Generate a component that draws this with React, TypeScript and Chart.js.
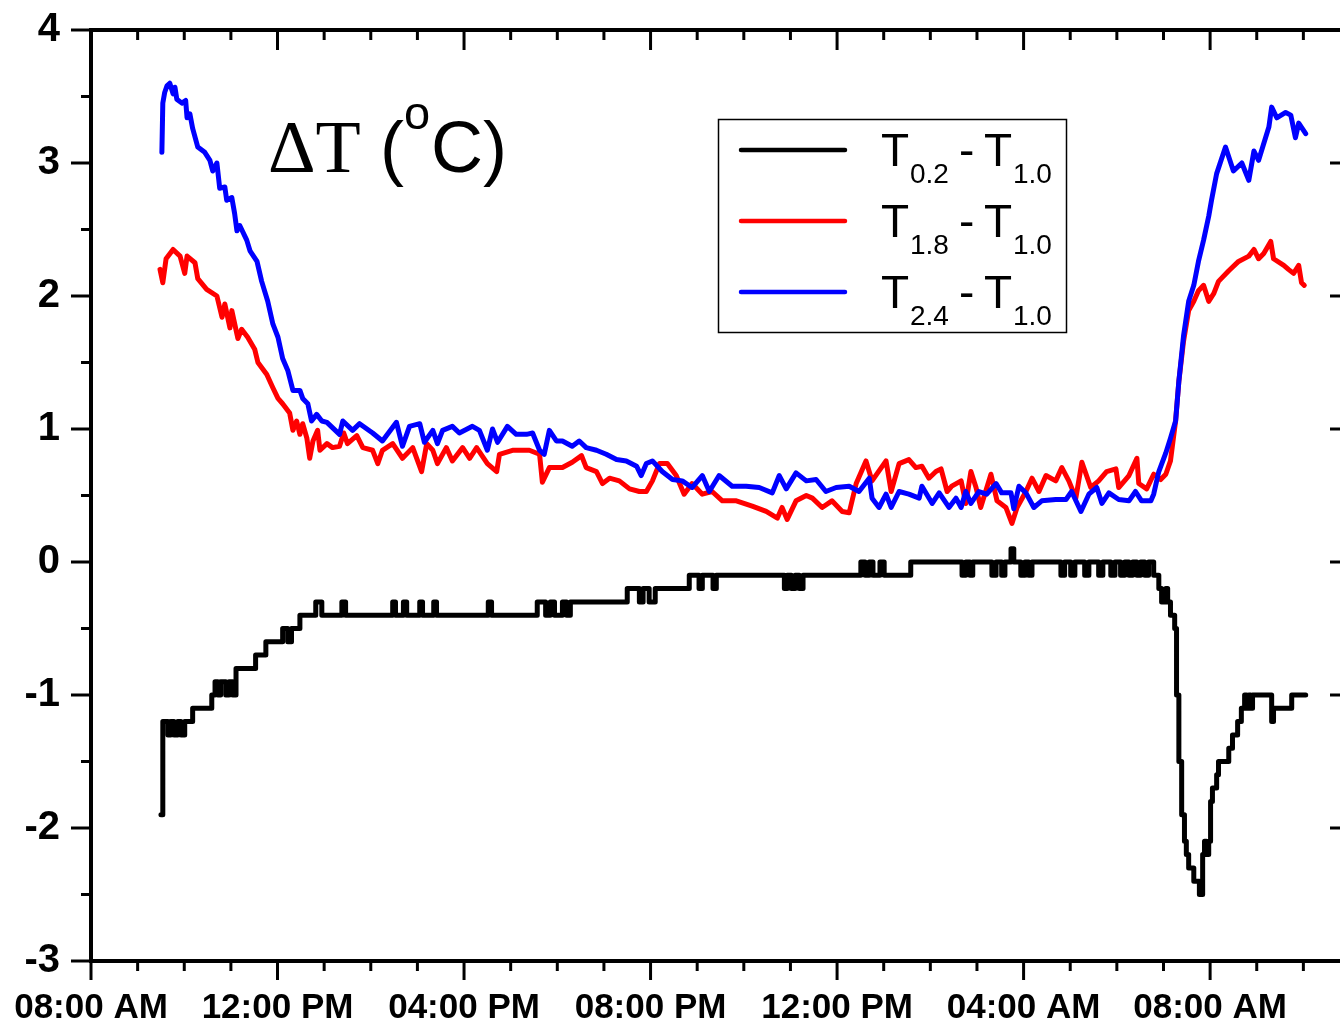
import React, { useEffect, useRef } from "react";
import { Chart, registerables } from "chart.js";

Chart.register(...registerables);

// x: hours after 08:00 AM of day 1; y: temperature difference (°C)
const xTickLabels = ["08:00 AM", "12:00 PM", "04:00 PM", "08:00 PM", "12:00 PM", "04:00 AM", "08:00 AM"];
const yTickValues = [-3, -2, -1, 0, 1, 2, 3, 4];
const seriesLabels = [
  ["0.2", "1.0"],
  ["1.8", "1.0"],
  ["2.4", "1.0"],
];

// T0.2 - T1.0 (change points, stepped)
const black02: [number, number][] = [
  [1.5, -1.9], [1.54, -1.2], [1.65, -1.3], [1.71, -1.2], [1.78, -1.3], [1.86, -1.2], [1.93, -1.3], [2.01, -1.2],
  [2.18, -1.1], [2.59, -1.0], [2.66, -0.9], [2.72, -1.0], [2.78, -0.9], [2.89, -1.0], [2.96, -0.9], [3.04, -1.0],
  [3.11, -0.8], [3.53, -0.7], [3.75, -0.6], [4.11, -0.5], [4.22, -0.6], [4.3, -0.5], [4.48, -0.4], [4.82, -0.3],
  [4.95, -0.4], [5.38, -0.3], [5.46, -0.4], [6.47, -0.3], [6.53, -0.4], [6.7, -0.3], [6.77, -0.4], [7.05, -0.3],
  [7.11, -0.4], [7.35, -0.3], [7.41, -0.4], [8.52, -0.3], [8.59, -0.4], [9.57, -0.3], [9.75, -0.4], [9.85, -0.3],
  [9.94, -0.4], [10.11, -0.3], [10.2, -0.4], [10.28, -0.3], [11.5, -0.2], [11.76, -0.3], [11.84, -0.2], [11.97, -0.3],
  [12.1, -0.2], [12.83, -0.1], [13.04, -0.2], [13.11, -0.1], [13.34, -0.2], [13.41, -0.1], [14.87, -0.2], [14.93, -0.1],
  [15.02, -0.2], [15.1, -0.1], [15.19, -0.2], [15.27, -0.1], [16.51, 0], [16.6, -0.1], [16.69, 0], [16.77, -0.1],
  [16.92, 0], [17.01, -0.1], [17.58, 0], [18.68, -0.1], [18.76, 0], [18.85, -0.1], [18.91, 0], [19.32, -0.1],
  [19.41, 0], [19.53, -0.1], [19.6, 0], [19.73, 0.1], [19.79, 0], [19.94, -0.1], [20.03, 0], [20.11, -0.1],
  [20.18, 0], [20.8, -0.1], [20.88, 0], [21.01, -0.1], [21.1, 0], [21.31, -0.1], [21.4, 0], [21.61, -0.1],
  [21.7, 0], [21.87, -0.1], [21.96, 0], [22.08, -0.1], [22.17, 0], [22.26, -0.1], [22.34, 0], [22.43, -0.1],
  [22.51, 0], [22.6, -0.1], [22.68, 0], [22.79, -0.1], [22.9, -0.2], [22.96, -0.3], [23.05, -0.2], [23.09, -0.3],
  [23.15, -0.4], [23.24, -0.5], [23.28, -1.0], [23.33, -1.5], [23.39, -1.9], [23.45, -2.1], [23.49, -2.2], [23.54, -2.3],
  [23.65, -2.4], [23.77, -2.5], [23.84, -2.2], [23.88, -2.1], [23.92, -2.2], [23.97, -2.1], [24.01, -1.8], [24.05, -1.7],
  [24.14, -1.6], [24.18, -1.5], [24.4, -1.4], [24.48, -1.3], [24.59, -1.2], [24.67, -1.1], [24.74, -1.0], [24.78, -1.1],
  [24.83, -1.0], [24.87, -1.1], [24.91, -1.0], [25.32, -1.2], [25.36, -1.1], [25.75, -1.0], [26.05, -1.0],
];

// T1.8 - T1.0
const red18: [number, number][] = [
  [1.48, 2.2], [1.54, 2.1], [1.61, 2.28], [1.76, 2.35], [1.91, 2.3], [2.01, 2.17], [2.06, 2.3], [2.23, 2.25],
  [2.29, 2.13], [2.48, 2.05], [2.7, 2.0], [2.81, 1.84], [2.87, 1.94], [2.98, 1.76], [3.02, 1.89], [3.15, 1.68],
  [3.23, 1.75], [3.36, 1.69], [3.51, 1.6], [3.58, 1.5], [3.77, 1.41], [3.9, 1.31], [4.01, 1.23], [4.11, 1.19],
  [4.26, 1.12], [4.33, 0.99], [4.41, 1.06], [4.48, 0.96], [4.54, 1.04], [4.63, 0.93], [4.69, 0.78], [4.76, 0.91],
  [4.86, 0.99], [4.91, 0.84], [5.06, 0.89], [5.18, 0.86], [5.33, 0.87], [5.42, 0.97], [5.5, 0.89], [5.7, 0.95],
  [5.83, 0.86], [6.04, 0.84], [6.15, 0.74], [6.25, 0.84], [6.47, 0.89], [6.68, 0.78], [6.9, 0.86], [7.09, 0.68],
  [7.2, 0.89], [7.33, 0.84], [7.43, 0.74], [7.62, 0.86], [7.75, 0.76], [7.97, 0.86], [8.12, 0.78], [8.27, 0.86],
  [8.5, 0.74], [8.7, 0.68], [8.76, 0.81], [9.04, 0.84], [9.4, 0.84], [9.62, 0.81], [9.68, 0.6], [9.83, 0.71],
  [10.11, 0.71], [10.32, 0.75], [10.52, 0.8], [10.62, 0.71], [10.84, 0.68], [10.97, 0.59], [11.12, 0.63], [11.33, 0.61],
  [11.55, 0.55], [11.76, 0.53], [11.91, 0.53], [12.04, 0.61], [12.19, 0.74], [12.36, 0.74], [12.55, 0.65], [12.72, 0.51],
  [12.89, 0.59], [13.11, 0.51], [13.32, 0.53], [13.54, 0.46], [13.84, 0.46], [14.18, 0.42], [14.48, 0.38], [14.72, 0.33],
  [14.82, 0.41], [14.93, 0.32], [15.12, 0.46], [15.34, 0.5], [15.47, 0.48], [15.68, 0.41], [15.89, 0.46], [16.11, 0.38],
  [16.26, 0.37], [16.41, 0.59], [16.62, 0.76], [16.75, 0.61], [17.05, 0.76], [17.16, 0.53], [17.33, 0.74], [17.54, 0.77],
  [17.69, 0.71], [17.82, 0.72], [17.97, 0.63], [18.12, 0.68], [18.23, 0.7], [18.36, 0.53], [18.46, 0.57], [18.66, 0.61],
  [18.76, 0.44], [18.87, 0.68], [18.98, 0.56], [19.08, 0.41], [19.3, 0.66], [19.43, 0.46], [19.62, 0.41], [19.75, 0.29],
  [19.86, 0.41], [20.05, 0.53], [20.18, 0.63], [20.33, 0.53], [20.48, 0.65], [20.69, 0.61], [20.82, 0.71], [20.97, 0.61],
  [21.12, 0.48], [21.25, 0.75], [21.44, 0.56], [21.61, 0.61], [21.78, 0.68], [21.98, 0.7], [22.04, 0.56], [22.26, 0.65],
  [22.43, 0.78], [22.47, 0.59], [22.64, 0.55], [22.79, 0.66], [22.94, 0.62], [23.05, 0.66], [23.15, 0.76], [23.26, 1.06],
  [23.33, 1.36], [23.43, 1.66], [23.54, 1.89], [23.65, 1.96], [23.75, 2.04], [23.86, 2.08], [23.97, 1.96], [24.08, 2.02],
  [24.18, 2.11], [24.4, 2.19], [24.61, 2.26], [24.83, 2.3], [24.94, 2.35], [25.04, 2.28], [25.15, 2.32], [25.3, 2.41],
  [25.36, 2.28], [25.58, 2.23], [25.68, 2.2], [25.79, 2.17], [25.9, 2.23], [25.96, 2.1], [26.02, 2.08],
];

// T2.4 - T1.0
const blue24: [number, number][] = [
  [1.52, 3.08], [1.54, 3.45], [1.58, 3.53], [1.63, 3.58], [1.69, 3.6], [1.76, 3.52], [1.8, 3.57], [1.84, 3.48],
  [1.95, 3.45], [2.03, 3.47], [2.06, 3.34], [2.12, 3.37], [2.18, 3.26], [2.29, 3.12], [2.44, 3.08], [2.55, 3.02],
  [2.61, 2.94], [2.7, 3.0], [2.76, 2.81], [2.87, 2.82], [2.91, 2.72], [3.02, 2.74], [3.08, 2.62], [3.13, 2.49],
  [3.19, 2.53], [3.34, 2.42], [3.41, 2.34], [3.56, 2.26], [3.66, 2.11], [3.79, 1.96], [3.9, 1.79], [4.01, 1.69],
  [4.11, 1.53], [4.22, 1.44], [4.33, 1.29], [4.48, 1.29], [4.54, 1.23], [4.65, 1.19], [4.73, 1.06], [4.84, 1.11],
  [4.95, 1.06], [5.06, 1.05], [5.33, 0.96], [5.4, 1.06], [5.61, 0.99], [5.76, 1.04], [6.04, 0.97], [6.25, 0.91],
  [6.55, 1.05], [6.68, 0.87], [6.83, 1.02], [7.05, 1.04], [7.15, 0.9], [7.33, 0.99], [7.43, 0.89], [7.54, 0.99],
  [7.75, 1.02], [7.9, 0.97], [8.18, 1.02], [8.33, 0.99], [8.5, 0.84], [8.61, 1.0], [8.72, 0.9], [8.93, 1.02],
  [9.12, 0.96], [9.34, 0.96], [9.47, 0.97], [9.62, 0.84], [9.72, 0.81], [9.83, 0.99], [9.98, 0.91], [10.11, 0.91],
  [10.32, 0.87], [10.47, 0.91], [10.62, 0.86], [10.84, 0.84], [11.05, 0.81], [11.27, 0.77], [11.48, 0.76], [11.7, 0.72],
  [11.8, 0.65], [11.91, 0.74], [12.04, 0.76], [12.25, 0.68], [12.47, 0.62], [12.68, 0.61], [12.89, 0.56], [13.11, 0.65],
  [13.26, 0.53], [13.47, 0.65], [13.75, 0.57], [14.05, 0.57], [14.33, 0.56], [14.61, 0.52], [14.76, 0.65], [14.91, 0.55],
  [15.12, 0.67], [15.34, 0.61], [15.55, 0.62], [15.76, 0.53], [15.98, 0.56], [16.26, 0.57], [16.47, 0.53], [16.69, 0.63],
  [16.75, 0.48], [16.9, 0.41], [17.05, 0.51], [17.16, 0.41], [17.33, 0.53], [17.54, 0.51], [17.76, 0.48], [17.82, 0.57],
  [18.04, 0.44], [18.19, 0.52], [18.4, 0.41], [18.55, 0.48], [18.66, 0.41], [18.76, 0.53], [18.87, 0.44], [19.04, 0.53],
  [19.21, 0.51], [19.41, 0.59], [19.53, 0.52], [19.73, 0.52], [19.79, 0.4], [19.9, 0.57], [20.05, 0.52], [20.22, 0.41],
  [20.39, 0.46], [20.69, 0.47], [20.91, 0.47], [21.03, 0.53], [21.23, 0.38], [21.4, 0.51], [21.57, 0.56], [21.68, 0.44],
  [21.83, 0.52], [22.04, 0.47], [22.26, 0.46], [22.4, 0.53], [22.53, 0.46], [22.73, 0.46], [22.79, 0.51], [22.9, 0.68],
  [23.05, 0.82], [23.15, 0.93], [23.26, 1.06], [23.33, 1.36], [23.43, 1.7], [23.54, 1.96], [23.65, 2.08], [23.75, 2.26],
  [23.86, 2.42], [23.97, 2.6], [24.03, 2.72], [24.14, 2.92], [24.33, 3.12], [24.5, 2.94], [24.68, 3.0], [24.83, 2.87],
  [24.94, 3.09], [25.04, 3.02], [25.26, 3.27], [25.32, 3.42], [25.43, 3.34], [25.62, 3.38], [25.73, 3.36], [25.83, 3.19],
  [25.9, 3.3], [26.05, 3.22],
];

const X_MIN = 0;
const X_MAX = 27;
const Y_MIN = -3;
const Y_MAX = 4;

const toPoints = (s: [number, number][]) => s.map(([x, y]) => ({ x, y }));

const framePlugin = {
  id: "frame",
  afterDraw(chart: any) {
    const { ctx, chartArea: a, scales } = chart;
    const xs = scales.x;
    const ys = scales.y;
    ctx.save();
    ctx.strokeStyle = "#000";
    ctx.fillStyle = "#000";
    const seg = (x1: number, y1: number, x2: number, y2: number) => {
      ctx.beginPath();
      ctx.moveTo(x1, y1);
      ctx.lineTo(x2, y2);
      ctx.stroke();
    };
    // tick marks
    ctx.lineWidth = 3;
    ctx.lineCap = "butt";
    for (let h = X_MIN; h <= X_MAX; h += 1) {
      const px = xs.getPixelForValue(h);
      const major = h % 4 === 0;
      seg(px, a.bottom, px, a.bottom + (major ? 19 : 10));
      seg(px, a.top, px, a.top + (major ? 20 : 10));
    }
    for (let v = Y_MIN; v <= Y_MAX + 1e-9; v += 0.5) {
      const py = ys.getPixelForValue(v);
      const major = Math.abs(v - Math.round(v)) < 1e-9;
      const l = major ? 20 : 10;
      seg(a.left - l, py, a.left, py);
      seg(a.right - l, py, a.right, py);
    }
    // frame
    ctx.lineWidth = 4;
    ctx.lineJoin = "miter";
    ctx.strokeRect(a.left, a.top, a.right - a.left, a.bottom - a.top);

    // title  ΔT (°C)
    ctx.textBaseline = "alphabetic";
    ctx.textAlign = "left";
    const serif = '"Liberation Serif", "Times New Roman", serif';
    const sans = '"Liberation Sans", Arial, sans-serif';
    ctx.font = `74px ${serif}`;
    ctx.fillText("\u0394T", 268, 172);
    ctx.font = `72px ${sans}`;
    ctx.fillText("(", 380, 172);
    ctx.font = `47px ${sans}`;
    ctx.fillText("o", 404, 129);
    ctx.font = `72px ${sans}`;
    ctx.fillText("C)", 431, 172);

    // legend
    const lx = 718, ly = 119, lw = 348, lh = 213;
    ctx.lineWidth = 1.5;
    ctx.strokeRect(lx + 0.5, ly + 0.5, lw, lh);
    const colors = ["#000000", "#ff0000", "#0000ff"];
    seriesLabels.forEach(([a1, b1], i) => {
      const yLine = 150 + 71 * i;
      ctx.strokeStyle = colors[i];
      ctx.lineWidth = 4.5;
      ctx.lineCap = "round";
      seg(741, yLine, 845, yLine);
      const base = 166 + 71 * i;
      const sub = 183 + 71 * i;
      ctx.fillStyle = "#000";
      ctx.font = `46px ${sans}`;
      ctx.fillText("T", 881, base);
      ctx.fillText("-", 959, base);
      ctx.fillText("T", 984, base);
      ctx.font = `28px ${sans}`;
      ctx.fillText(a1, 910, sub);
      ctx.fillText(b1, 1013, sub);
    });
    ctx.restore();
  },
};

export default function App() {
  const ref = useRef<HTMLCanvasElement | null>(null);
  useEffect(() => {
    if (!ref.current) return;
    const tickFont = { family: '"Liberation Sans", Arial, sans-serif', weight: "bold" as const };
    const common = {
      borderWidth: 5,
      pointRadius: 0,
      borderJoinStyle: "round" as const,
      borderCapStyle: "round" as const,
    };
    const chart = new Chart(ref.current, {
      type: "line",
      data: {
        datasets: [
          { label: "T0.2 - T1.0", data: toPoints(black02), borderColor: "#000000", stepped: "before", ...common },
          { label: "T2.4 - T1.0", data: toPoints(blue24), borderColor: "#0000ff", tension: 0, ...common },
          { label: "T1.8 - T1.0", data: toPoints(red18), borderColor: "#ff0000", tension: 0, ...common },
        ],
      },
      options: {
        animation: false,
        responsive: false,
        devicePixelRatio: 1,
        layout: { padding: { top: 30, right: 4, left: 0, bottom: 0 } },
        plugins: { legend: { display: false }, tooltip: { enabled: false }, title: { display: false } },
        scales: {
          x: {
            type: "linear",
            min: X_MIN,
            max: X_MAX,
            afterFit: (s: any) => {
              s.height = 65;
              s.paddingLeft = 0;
              s.paddingRight = 0;
              s.paddingTop = 0;
              s.paddingBottom = 0;
            },
            grid: { display: false },
            border: { display: false },
            ticks: {
              stepSize: 4,
              includeBounds: false,
              autoSkip: false,
              maxRotation: 0,
              padding: 18,
              color: "#000",
              font: { ...tickFont, size: 35 },
              callback: (v: any) => xTickLabels[Math.round(Number(v) / 4)] ?? "",
            },
          },
          y: {
            type: "linear",
            min: Y_MIN,
            max: Y_MAX,
            afterFit: (s: any) => {
              s.width = 91;
              s.paddingLeft = 0;
              s.paddingRight = 0;
              s.paddingTop = 0;
              s.paddingBottom = 0;
            },
            grid: { display: false },
            border: { display: false },
            ticks: {
              stepSize: 1,
              includeBounds: false,
              padding: 23,
              color: "#000",
              font: { ...tickFont, size: 40 },
              callback: (v: any) => (yTickValues.includes(Number(v)) ? String(v) : ""),
            },
          },
        },
      },
      plugins: [framePlugin],
    });
    return () => chart.destroy();
  }, []);

  return (
    <div
      style={{
        position: "fixed",
        left: 0,
        top: 0,
        width: 1340,
        height: 1026,
        overflow: "hidden",
        background: "#fff",
      }}
    >
      <canvas ref={ref} width={1354} height={1026} style={{ display: "block" }} />
    </div>
  );
}
